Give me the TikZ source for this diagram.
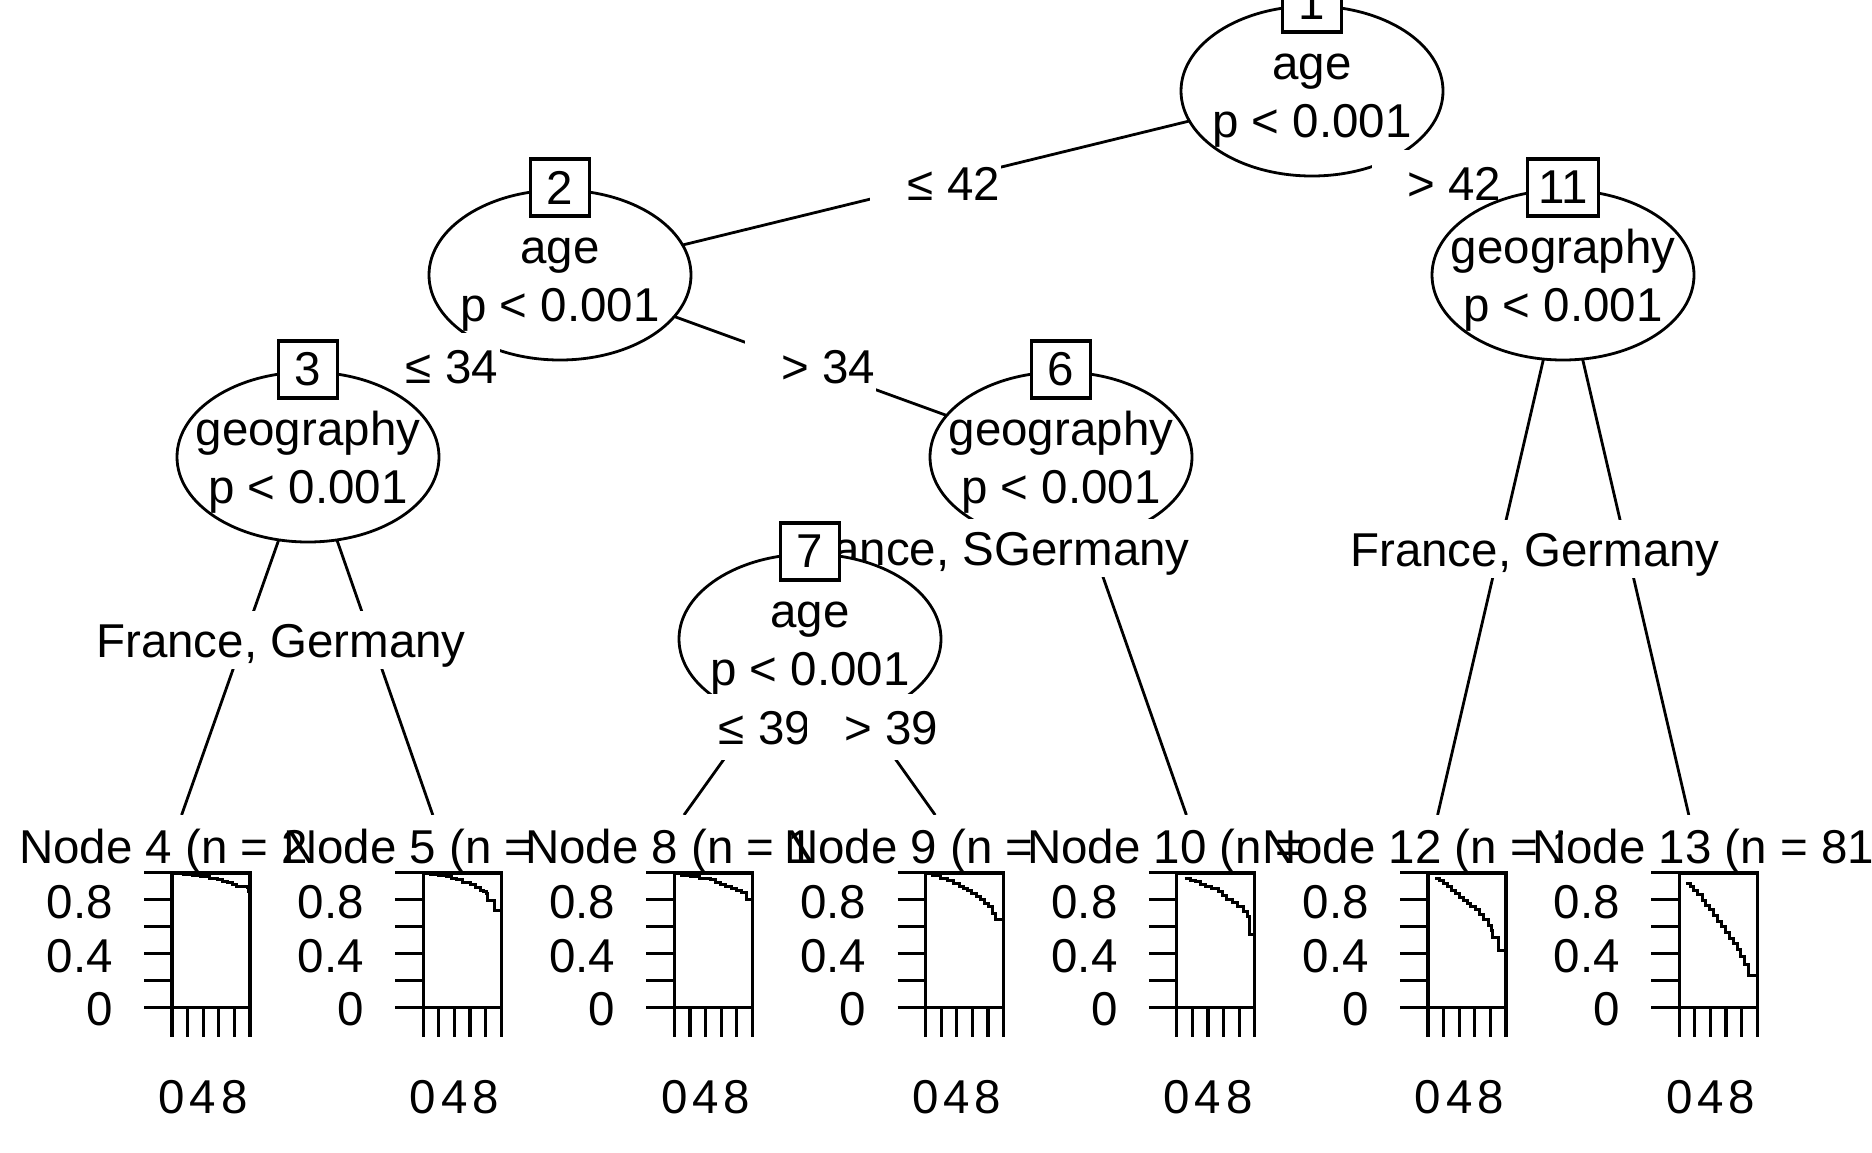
\documentclass[tikz,border=0pt]{standalone}
\usepackage{fontspec}
\setmainfont{Liberation Sans}
\usetikzlibrary{shapes.geometric}
\newcommand\bigfnt{\fontsize{47.5}{57}\selectfont}
\tikzset{
  ell/.style={ellipse, draw, fill=white, minimum width=262, minimum height=170, inner sep=0pt, line width=2.8pt},
  numbox/.style={rectangle, draw, fill=white, minimum width=59, minimum height=57, inner sep=0pt, line width=3.2pt, font=\bigfnt},
  lblbox/.style={rectangle, fill=white, draw=none, minimum width=131, minimum height=66, inner sep=0pt},
  txt/.style={anchor=base, inner sep=0pt, font=\bigfnt},
  geolbl/.style={txt, fill=white, text height=46pt, text depth=12pt},
  edgeline/.style={line width=2.8pt},
  axisline/.style={line width=3.2pt},
  curve/.style={line width=3pt, line join=miter},
}
\newcommand\survpanel[5]{%
  \fill[white] ({#1-116},815) rectangle ({#1+135.2},1152);
  \node[txt, anchor=base west] (#4title) at (#2,863) {#3};
  \foreach \vv in {0,0.2,0.4,0.6,0.8,1}
    \draw[axisline] ({#1-28},{1007.3-134.6*\vv}) -- ({#1},{1007.3-134.6*\vv});
  \foreach \tk in {0,2,4,6,8,10}
    \draw[axisline] ({#1+7.8*\tk},1007.3) -- ({#1+7.8*\tk},1037);
  \draw[axisline] (#1,873) rectangle ({#1+78},1007.3);
  \node[txt, anchor=base east] (#4ya) at ({#1-59},918) {0.8};
  \node[txt, anchor=base east] (#4yb) at ({#1-59},972) {0.4};
  \node[txt, anchor=base east] (#4yc) at ({#1-59},1025.5) {0};
  \node[txt] (#4xa) at (#1,1113) {0};
  \node[txt] (#4xb) at ({#1+31.2},1113) {4};
  \node[txt] (#4xc) at ({#1+62.4},1113) {8};
  \begin{scope}[shift={(#1,1007.3)}, xscale=7.8, yscale=-134.6]
    \draw[curve] plot[const plot] coordinates {#5};
  \end{scope}
}
\begin{document}
\begin{tikzpicture}[x=1pt,y=-1pt]
\useasboundingbox (0,0) rectangle (1872,1152);
\fill[white] (0,0) rectangle (1872,1152);
\clip (0,0) rectangle (1872,1152);
% centres
\coordinate (c1) at (1312,91);
\coordinate (c2) at (560,275);
\coordinate (c11) at (1563,275);
\coordinate (c3) at (308,457);
\coordinate (c6) at (1061,457);
\coordinate (c7) at (810,639);
\coordinate (p4) at (181.6,815);
\coordinate (p5) at (432.8,815);
\coordinate (p8) at (684,815);
\coordinate (p9) at (935.2,815);
\coordinate (p10) at (1186.4,815);
\coordinate (p12) at (1437.6,815);
\coordinate (p13) at (1688.8,815);
% ---- node 1
\draw[edgeline] (c1) -- (c2);
\draw[edgeline] (c1) -- (c11);
\node[ell] (n1) at (c1) {};
\node[numbox] (b1) at (1312,3.5) {1};
\node[txt] (n1a) at (1312,79) {age};
\node[txt] (n1b) at (1312,137) {p < 0.001};
\node[lblbox] (w12) at (935.5,183) {};
\node[txt] (l12) at (954,200) {≤ 42};
\node[lblbox] (w111) at (1437.5,183) {};
\node[txt] (l111) at (1454,200) {> 42};
% ---- node 2
\draw[edgeline] (c2) -- (c3);
\draw[edgeline] (c2) -- (c6);
\node[ell] (n2) at (c2) {};
\node[numbox] (b2) at (560,187.5) {2};
\node[txt] (n2a) at (560,263) {age};
\node[txt] (n2b) at (560,321) {p < 0.001};
\node[lblbox] (w23) at (434,366) {};
\node[txt] (l23) at (452,383) {≤ 34};
\node[lblbox] (w26) at (810.5,366) {};
\node[txt] (l26) at (828,383) {> 34};
% ---- node 3
\draw[edgeline] (c3) -- (p4);
\draw[edgeline] (c3) -- (p5);
\node[ell] (n3) at (c3) {};
\node[numbox] (b3) at (308,369.5) {3};
\node[txt] (n3a) at (308,445) {geography};
\node[txt] (n3b) at (308,503) {p < 0.001};
\node[geolbl, anchor=base west] (l3) at (96,657) {France, Germany};
% ---- panels 4, 5
\survpanel{172}{19}{Node 4 (n = 2}{t4}{(0.4,1) (1.5,0.99) (2.6,0.98) (3.6,0.97) (4.8,0.96) (5.8,0.947) (6.5,0.935) (7.1,0.925) (7.7,0.915) (8.3,0.9) (9.7,0.89) (9.8,0.857) (10,0.857)}
\survpanel{423.2}{283}{Node 5 (n =}{t5}{(0.5,1) (0.9,0.99) (2,0.98) (3,0.97) (3.6,0.96) (4.3,0.946) (5.1,0.93) (6,0.909) (6.7,0.89) (7.3,0.87) (7.7,0.858) (8.1,0.846) (8.2,0.797) (9.1,0.785) (9.2,0.718) (10,0.718)}
% ---- node 6
\draw[edgeline] (c6) -- (c7);
\draw[edgeline] (c6) -- (p10);
\node[ell] (n6) at (c6) {};
\node[numbox] (b6) at (1061,369.5) {6};
\node[txt] (n6a) at (1061,445) {geography};
\node[txt] (n6b) at (1061,503) {p < 0.001};
\node[geolbl, anchor=base east] (l6) at (1190,565) {France, SGermany};
% ---- node 7
\draw[edgeline] (c7) -- (p8);
\draw[edgeline] (c7) -- (p9);
\node[ell] (n7) at (c7) {};
\node[numbox] (b7) at (810,551.5) {7};
\node[txt] (n7a) at (810,627) {age};
\node[txt] (n7b) at (810,685) {p < 0.001};
\node[lblbox] (w78) at (747,727) {};
\node[txt] (l78) at (765,744) {≤ 39};
\node[lblbox] (w79) at (872.5,727) {};
\node[txt] (l79) at (891,744) {> 39};
% ---- panels 8, 9, 10
\survpanel{674.4}{525}{Node 8 (n = 1}{t8}{(0.5,1) (0.9,0.983) (2,0.97) (3.2,0.959) (4.6,0.946) (5.3,0.93) (5.9,0.91) (6.6,0.9) (7.3,0.885) (8,0.87) (8.6,0.85) (9.3,0.8) (10,0.8)}
\survpanel{925.6}{784}{Node 9 (n =}{t9}{(0.5,1) (0.9,0.983) (1.9,0.959) (2.8,0.94) (3.6,0.922) (4.3,0.9) (4.9,0.885) (5.4,0.87) (5.9,0.849) (6.5,0.82) (7,0.8) (7.5,0.77) (8,0.746) (8.6,0.7) (9,0.654) (10,0.654)}
\survpanel{1176.8}{1027}{Node 10 (n =}{t10}{(1,0.96) (1.7,0.945) (2.4,0.934) (3,0.915) (3.7,0.898) (4.5,0.88) (5.4,0.861) (5.9,0.83) (6.4,0.8) (7.1,0.775) (7.8,0.746) (8.5,0.71) (9.1,0.678) (9.3,0.544) (10,0.544)}
% ---- node 11
\draw[edgeline] (c11) -- (p12);
\draw[edgeline] (c11) -- (p13);
\node[ell] (n11) at (c11) {};
\node[numbox, minimum width=71] (b11) at (1563,187.5) {11};
\node[txt] (n11a) at (1563,263) {geography};
\node[txt] (n11b) at (1563,321) {p < 0.001};
\node[geolbl, anchor=base west] (l11) at (1350,566) {France, Germany};
% ---- panels 12, 13
\survpanel{1428}{1262}{Node 12 (n = 1}{t12}{(0.9,0.96) (1.5,0.94) (2,0.921) (2.5,0.9) (3,0.871) (3.5,0.845) (4,0.817) (4.5,0.795) (5.05,0.772) (5.5,0.75) (6.06,0.723) (6.6,0.69) (7.17,0.653) (7.7,0.61) (8.2,0.569) (8.3,0.52) (9.1,0.42) (10,0.42)}
\survpanel{1679.2}{1532}{Node 13 (n = 81}{t13}{(0.85,0.92) (1.4,0.9) (1.86,0.871) (2.4,0.84) (3,0.797) (3.4,0.76) (3.9,0.723) (4.4,0.68) (4.9,0.636) (5.4,0.6) (5.9,0.554) (6.5,0.51) (7,0.475) (7.5,0.43) (7.9,0.381) (8.4,0.32) (8.9,0.233) (10,0.233)}
\end{tikzpicture}
\end{document}
